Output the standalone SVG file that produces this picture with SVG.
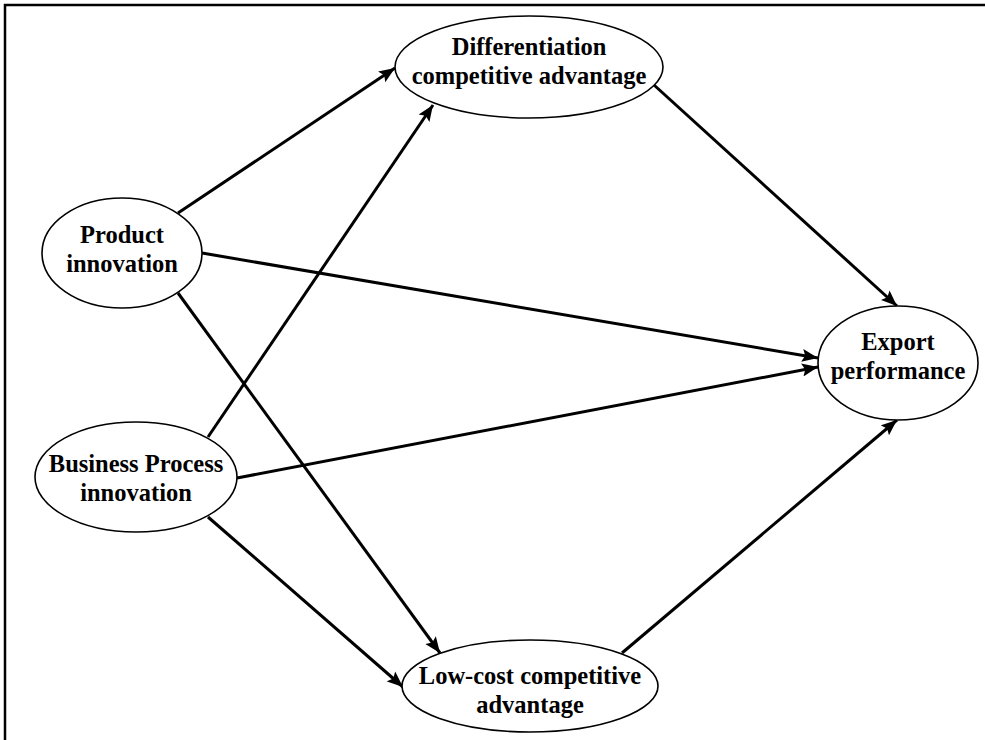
<svg xmlns="http://www.w3.org/2000/svg" width="985" height="740" viewBox="0 0 985 740">
<style>
.node ellipse{fill:#fff;stroke:#000;stroke-width:1.6}
.node text{font-family:"Liberation Serif","Times New Roman",serif;font-weight:bold;font-size:24.5px;fill:#000;text-anchor:middle}
.edge{stroke:#000;stroke-width:3;fill:none;marker-end:url(#arr)}
</style>
<defs>
<marker id="arr" markerUnits="userSpaceOnUse" markerWidth="18" markerHeight="14" refX="16" refY="7" orient="auto">
<path d="M0,0.5 L16,7 L0,13.5 L3,7 z" fill="#000"/>
</marker>
</defs>
<rect width="985" height="740" fill="#fff"/>
<rect x="5" y="5" width="1000" height="800" fill="none" stroke="#000" stroke-width="2.5"/>
<g id="connectors">
<line class="edge" x1="178" y1="213" x2="395" y2="68"/>
<line class="edge" x1="202" y1="253" x2="818" y2="358"/>
<line class="edge" x1="178" y1="293" x2="440" y2="653"/>
<line class="edge" x1="208" y1="437" x2="433" y2="105"/>
<line class="edge" x1="237" y1="478" x2="818" y2="367"/>
<line class="edge" x1="208" y1="517" x2="403" y2="687"/>
<line class="edge" x1="654" y1="85" x2="897" y2="306"/>
<line class="edge" x1="622" y1="653" x2="897" y2="420"/>
</g>
<g id="diff" class="node">
<ellipse cx="529" cy="67" rx="134" ry="51"/>
<text transform="translate(529 55) scale(1 1.06)">Differentiation</text>
<text transform="translate(529 84) scale(1 1.06)">competitive advantage</text>
</g>
<g id="product" class="node">
<ellipse cx="122" cy="253" rx="80" ry="55"/>
<text transform="translate(122 243) scale(1 1.06)">Product</text>
<text transform="translate(122 272) scale(1 1.06)">innovation</text>
</g>
<g id="business" class="node">
<ellipse cx="136" cy="477" rx="101" ry="55"/>
<text transform="translate(136 472) scale(1 1.06)">Business Process</text>
<text transform="translate(136 501) scale(1 1.06)">innovation</text>
</g>
<g id="lowcost" class="node">
<ellipse cx="530" cy="686" rx="128" ry="46"/>
<text transform="translate(530 684) scale(1 1.06)">Low-cost competitive</text>
<text transform="translate(530 713) scale(1 1.06)">advantage</text>
</g>
<g id="export" class="node">
<ellipse cx="898" cy="363" rx="80" ry="57"/>
<text transform="translate(898 350) scale(1 1.06)">Export</text>
<text transform="translate(898 379) scale(1 1.06)">performance</text>
</g>
</svg>
